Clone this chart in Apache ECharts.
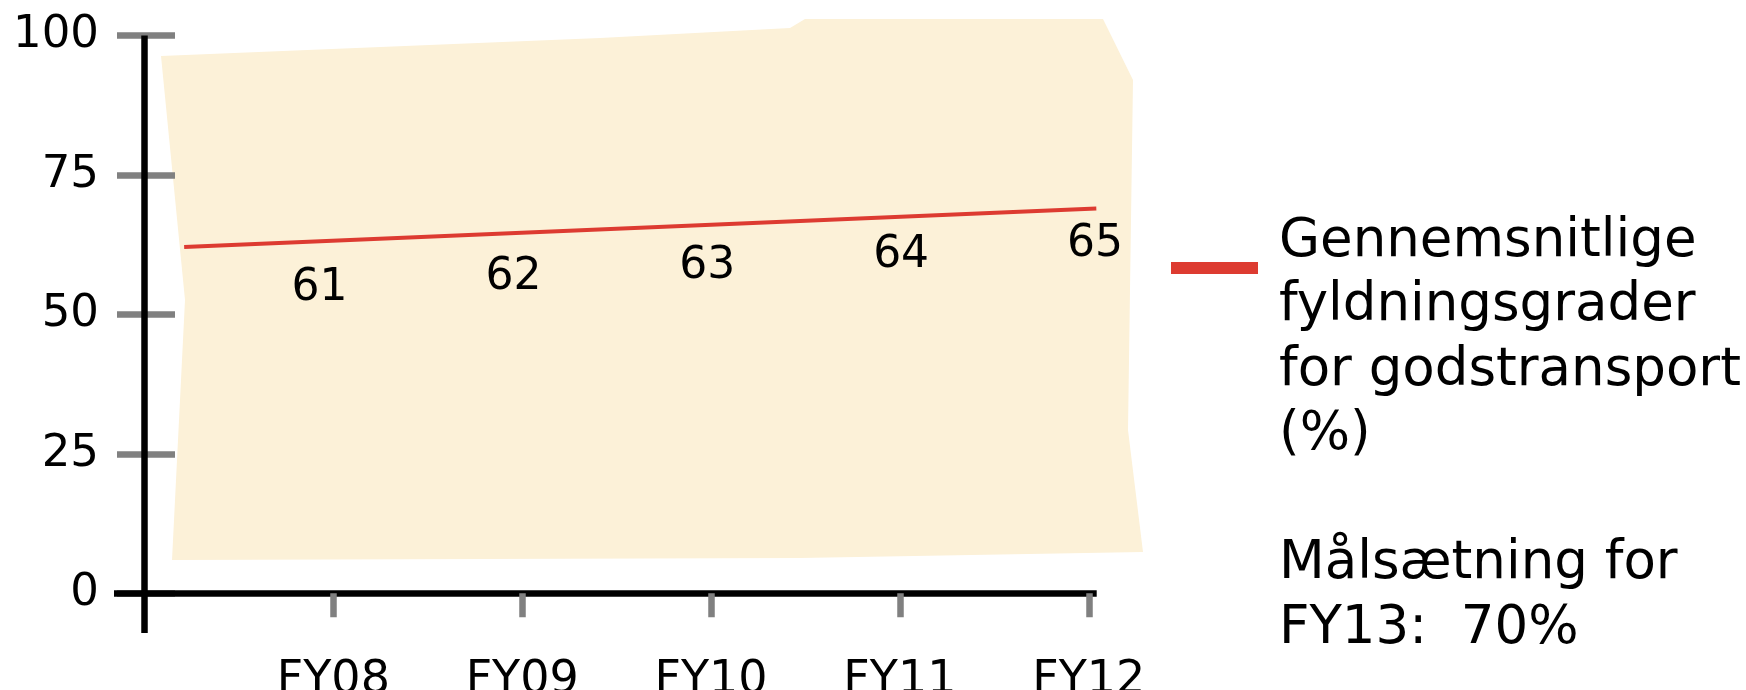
<!DOCTYPE html>
<html>
<head>
<meta charset="utf-8">
<script src="https://cdn.jsdelivr.net/npm/echarts@6/dist/echarts.min.js"></script>
<style>
html,body{margin:0;padding:0;background:#fff;}
#chart{width:1746px;height:690px;}
</style>
</head>
<body>
<div id="chart"></div>
<script>
// categories and printed values
var categories = ['FY08', 'FY09', 'FY10', 'FY11', 'FY12'];
var categoryPos = [1, 2, 3, 4, 5];
var values = [61, 62, 63, 64, 65];
// red trend line as drawn (start / end)
var trendX = [0.21, 5.04];
var trendY = [62.1, 69.0];
// y ticks
var yTicks = [0, 25, 50, 75, 100];
// legend text
var seriesName = 'Gennemsnitlige fyldningsgrader for godstransport (%)';
var legendLines = ['Gennemsnitlige', 'fyldningsgrader', 'for godstransport', '(%)'];
var targetLines = ['Målsætning for', 'FY13:  70%'];

var FONT = 'DejaVu Sans';
var chart = echarts.init(document.getElementById('chart'), null, {renderer: 'canvas'});

var xMin = -0.1615, xMax = 5.042, yMin = -7.12, yMax = 100;
var LH = 64.5, EH = LH - 8.67;

function hiddenAxis(min, max) {
  return {type: 'value', show: false, min: min, max: max,
    axisLine: {show: false, onZero: false}, axisTick: {show: false}, axisLabel: {show: false}, splitLine: {show: false}};
}

var option = {
  animation: false,
  backgroundColor: '#ffffff',
  grid: {left: 114, top: 35.5, right: 649.3, bottom: 57, containLabel: false, outerBoundsMode: 'none'},
  graphic: [{
    type: 'polygon', z: -1, silent: true,
    shape: {points: [[161,56],[600,38],[790,28],[805,19],[1103,19],[1133,80],[1128,430],[1143,552],[800,558],[172,560],[185,300]]},
    style: {fill: '#FCF1D8'}
  }],
  legend: {
    data: [seriesName],
    left: 1171, top: 268 - (6 * EH + 7 * LH) / 2, padding: 0,
    icon: 'rect', itemWidth: 87, itemHeight: 12,
    itemStyle: {color: '#DD3B31'},
    formatter: function () {
      var pre = [];
      for (var i = 0; i < 6; i++) pre.push('{e| }');
      return pre.concat(legendLines, [''], targetLines).join('\n');
    },
    textStyle: {fontFamily: FONT, fontSize: 53, lineHeight: LH, color: '#000', padding: [0, 0, 0, 16],
      rich: {e: {fontSize: 10, lineHeight: EH}}}
  },
  xAxis: [{
    type: 'value', min: xMin, max: xMax, z: 2,
    axisLine: {show: true, onZero: true, lineStyle: {color: '#000', width: 6.5, cap: 'butt'}},
    axisTick: {show: true, inside: false, length: 24, customValues: categoryPos, lineStyle: {color: '#808080', width: 6.5}},
    axisLabel: {show: true, customValues: categoryPos, margin: 25, fontFamily: FONT, fontSize: 46, color: '#000',
      formatter: function (v) { return categories[Math.round(v) - 1] || ''; }},
    splitLine: {show: false}
  }, {
    type: 'value', min: xMin, max: xMax, z: 2,
    axisLine: {show: false, onZero: true, onZeroAxisIndex: 0},
    axisTick: {show: true, inside: true, length: 13, customValues: categoryPos, lineStyle: {color: '#808080', width: 6.5}},
    axisLabel: {show: false},
    splitLine: {show: false}
  }, hiddenAxis(-0.06, 5.0088)],
  yAxis: [{
    type: 'value', min: yMin, max: yMax, z: 3,
    axisLine: {show: true, onZero: true, lineStyle: {color: '#000', width: 6.5, cap: 'butt'}},
    axisTick: {show: false},
    axisLabel: {show: true, customValues: yTicks, margin: 15, fontFamily: FONT, fontSize: 45, color: '#000'},
    splitLine: {show: false}
  }, {
    type: 'value', min: yMin, max: yMax, z: 1,
    axisLine: {show: false, onZero: true, onZeroAxisIndex: 0},
    axisTick: {show: true, inside: true, length: 27.5, customValues: yTicks, lineStyle: {color: '#808080', width: 6.5}},
    axisLabel: {show: false},
    splitLine: {show: false}
  }, {
    type: 'value', min: yMin, max: yMax, z: 1,
    axisLine: {show: false, onZero: true, onZeroAxisIndex: 0},
    axisTick: {show: true, inside: false, length: 30.5, customValues: yTicks, lineStyle: {color: '#808080', width: 6.5}},
    axisLabel: {show: false},
    splitLine: {show: false}
  }, hiddenAxis(29.28, 83.6)],
  series: [{
    name: seriesName,
    type: 'line',
    xAxisIndex: 0, yAxisIndex: 0,
    data: trendX.map(function (x, i) { return [x, trendY[i]]; }),
    showSymbol: false, symbol: 'none',
    lineStyle: {color: '#DD3B31', width: 4},
    itemStyle: {color: '#DD3B31'},
    z: 3
  }, {
    name: 'labels',
    type: 'scatter',
    xAxisIndex: 2, yAxisIndex: 3,
    data: categoryPos.map(function (x, i) { return [x, values[i]]; }),
    symbolSize: 0,
    itemStyle: {color: '#000', opacity: 1},
    label: {show: true, position: 'inside', offset: [0, 4], fontFamily: FONT, fontSize: 44, color: '#000',
      opacity: 1, textBorderWidth: 0, textBorderColor: 'transparent',
      formatter: function (p) { return String(p.value[1]); }},
    z: 4
  }]
};
chart.setOption(option);
</script>
</body>
</html>
